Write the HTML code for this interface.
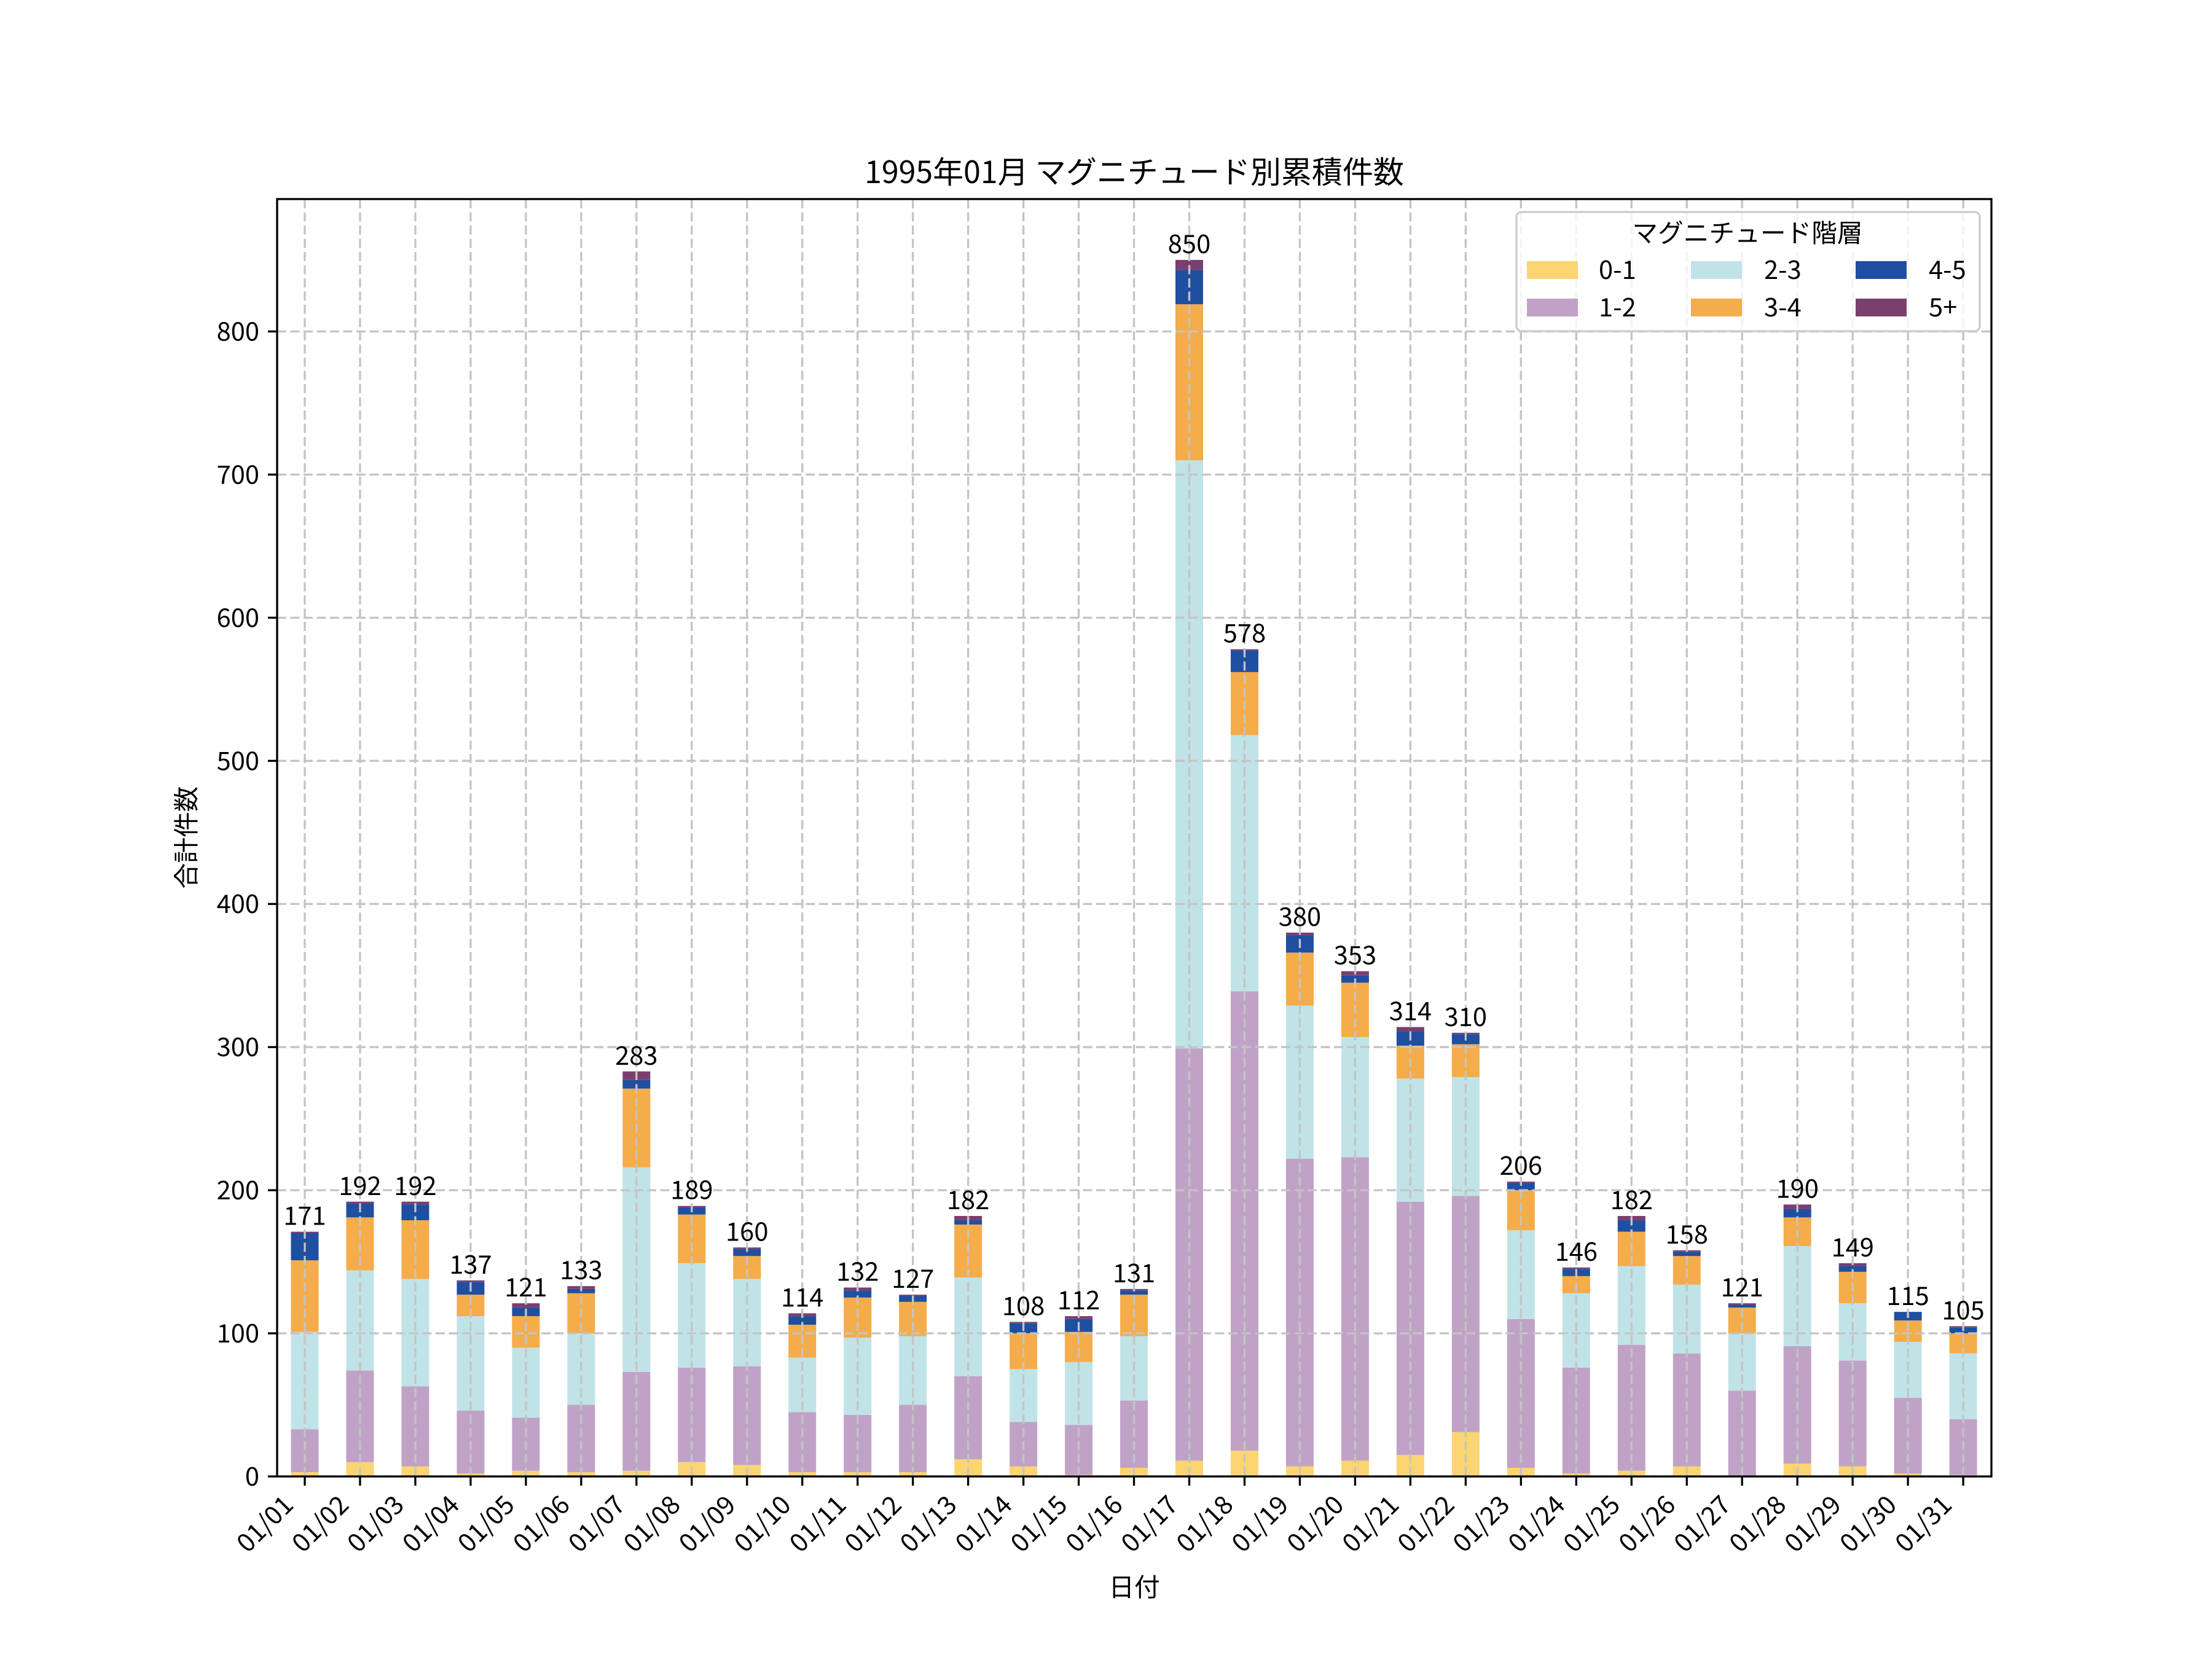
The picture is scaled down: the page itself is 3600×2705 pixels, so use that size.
<!DOCTYPE html>
<html><head><meta charset="utf-8"><style>
html,body{margin:0;padding:0;background:#fff;}
svg text{font-family:"Noto Sans CJK JP","Liberation Sans",sans-serif;fill:#000;}
</style></head><body>
<svg id="s" xmlns="http://www.w3.org/2000/svg" width="3600" height="2700" viewBox="0 0 3600 2700">
<rect width="3600" height="2700" fill="#fff"/>
<g id="bars"></g>
<g id="grid" stroke="#c4c4c4" stroke-width="3.3" stroke-dasharray="15 6.5"></g>
<g id="labels" font-size="41.7" text-anchor="middle"></g>
<g id="ticks" stroke="#000" stroke-width="3.3"></g>
<g id="ticklabels" font-size="41.7"></g>
<rect x="451" y="324" width="2790" height="2079" fill="none" stroke="#000" stroke-width="3.3"/>
<text x="1846" y="298" font-size="50" text-anchor="middle">1995年01月 マグニチュード別累積件数</text>
<text x="1846" y="2598" font-size="41.7" text-anchor="middle">日付</text>
<text transform="translate(318,1363) rotate(-90)" font-size="41.7" text-anchor="middle">合計件数</text>
<g>
<rect x="2468" y="345" width="754" height="194" rx="8" fill="#fff" fill-opacity="0.8" stroke="#cccccc" stroke-width="3.3"/>
<text x="2844" y="394" font-size="41.7" text-anchor="middle">マグニチュード階層</text>
<rect x="2485" y="425" width="83" height="29" fill="#fbd572"/>
<text x="2602" y="454" font-size="41.7">0-1</text>
<rect x="2485" y="486" width="83" height="29" fill="#c0a2c7"/>
<text x="2602" y="515" font-size="41.7">1-2</text>
<rect x="2752" y="425" width="83" height="29" fill="#c0e3e7"/>
<text x="2871" y="454" font-size="41.7">2-3</text>
<rect x="2752" y="486" width="83" height="29" fill="#f5ac4a"/>
<text x="2871" y="515" font-size="41.7">3-4</text>
<rect x="3020" y="425" width="83" height="29" fill="#1f4fa0"/>
<text x="3139" y="454" font-size="41.7">4-5</text>
<rect x="3020" y="486" width="83" height="29" fill="#7b3f6e"/>
<text x="3139" y="515" font-size="41.7">5+</text>
</g>
</svg>
<script>
var D=[[3,33,101,151,170,171],[10,74,144,181,191,192],[7,63,138,179,190,192],[2,46,112,127,136,137],[4,41,90,112,118,121],[3,50,100,128,131,133],[4,73,216,271,277,283],[10,76,149,183,188,189],[8,77,138,154,159,160],[3,45,83,106,112,114],[3,43,97,125,130,132],[3,50,98,122,126,127],[12,70,139,176,179,182],[7,38,75,100,107,108],[1,36,80,101,110,112],[6,53,98,127,130,131],[11,299,710,819,843,850],[18,339,518,562,577,578],[7,222,329,366,378,380],[11,223,307,345,350,353],[15,192,278,301,311,314],[31,196,279,302,309,310],[6,110,172,200,205,206],[2,76,128,140,145,146],[4,92,147,171,179,182],[7,86,134,154,157,158],[0,60,100,118,120,121],[9,91,161,181,187,190],[7,81,121,143,147,149],[2,55,94,109,115,115],[1,40,86,100,104,105]];
var C=["#fbd572","#c0a2c7","#c0e3e7","#f5ac4a","#1f4fa0","#7b3f6e"];
var NS="http://www.w3.org/2000/svg";
function el(p,t,a,txt){var e=document.createElementNS(NS,t);for(var k in a)e.setAttribute(k,a[k]);if(txt!==undefined)e.textContent=txt;document.getElementById(p).appendChild(e);return e;}
function Y(v){return 2403-v*2.3294;}
for(var i=0;i<31;i++){
 var cx=496+i*89.97,prev=0;
 for(var j=0;j<6;j++){var t=D[i][j];if(t>prev){el("bars","rect",{x:cx-22.5,y:Y(t),width:45,height:Y(prev)-Y(t),fill:C[j]});}prev=Math.max(prev,t);}
 var tot=D[i][5];
 el("labels","text",{x:cx,y:Y(tot)-11},String(tot));
 el("grid","line",{x1:cx,y1:324,x2:cx,y2:2403});
 el("ticks","line",{x1:cx,y1:2403,x2:cx,y2:2418});
 var d=(i+1<10?"0":"")+(i+1);
 el("ticklabels","text",{transform:"translate("+(cx-16)+",2452) rotate(-45)","text-anchor":"end"},"01/"+d);
}
for(var v=0;v<=800;v+=100){
 var y=Y(v);
 el("grid","line",{x1:451,y1:y,x2:3241,y2:y});
 el("ticks","line",{x1:436,y1:y,x2:451,y2:y});
 el("ticklabels","text",{x:422,y:y+15,"text-anchor":"end"},String(v));
}
</script>
</body></html>
